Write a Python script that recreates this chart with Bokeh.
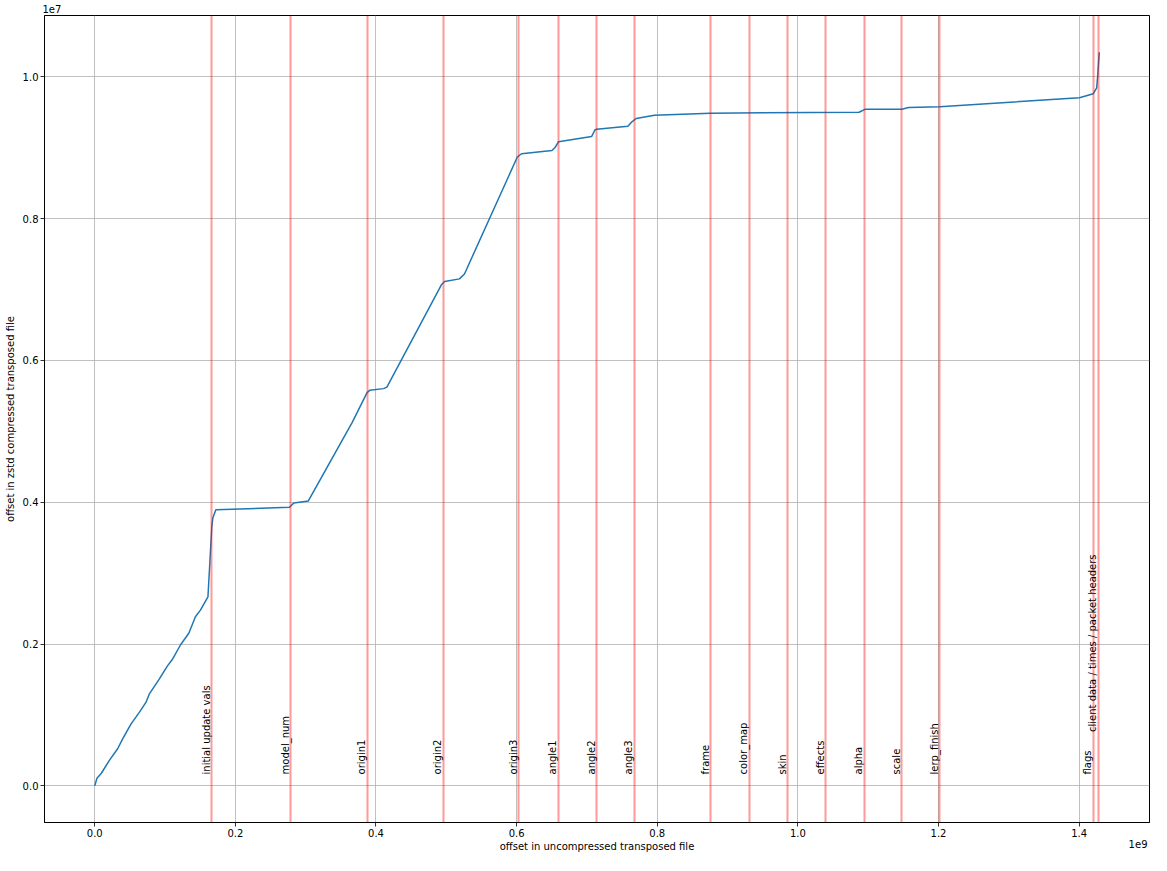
from math import pi
from bokeh.plotting import figure
from bokeh.models import Range1d, FixedTicker, CustomJSTickFormatter, Title, ColumnDataSource
from bokeh.core.properties import value
from bokeh.embed import file_html
from bokeh.resources import INLINE

# --- data -------------------------------------------------------------
# offset in uncompressed transposed file (bytes)
uncompressed_offset = [
    0.0, 0.0032e9, 0.0094e9, 0.0211e9, 0.0328e9, 0.0399e9, 0.0517e9, 0.0634e9,
    0.0728e9, 0.0775e9, 0.0915e9, 0.1032e9, 0.1103e9, 0.1221e9, 0.1338e9,
    0.1432e9, 0.1503e9, 0.1610e9, 0.1666e9, 0.1680e9, 0.1723e9, 0.2770e9,
    0.2831e9, 0.3038e9, 0.3662e9, 0.3873e9, 0.3911e9, 0.4108e9, 0.4155e9,
    0.4930e9, 0.4976e9, 0.5187e9, 0.5258e9, 0.6010e9, 0.6070e9, 0.6503e9,
    0.6549e9, 0.6596e9, 0.7066e9, 0.7113e9, 0.7137e9, 0.7582e9, 0.7630e9,
    0.7700e9, 0.7958e9, 0.8756e9, 1.0869e9, 1.0954e9, 1.1479e9, 1.1573e9,
    1.2018e9, 1.4004e9, 1.4201e9, 1.4249e9, 1.4263e9, 1.4286e9,
]
# offset in zstd compressed transposed file (bytes)
compressed_offset = [
    0.0, 0.107e6, 0.177e6, 0.363e6, 0.526e6, 0.665e6, 0.874e6, 1.036e6,
    1.176e6, 1.293e6, 1.502e6, 1.688e6, 1.781e6, 1.990e6, 2.152e6,
    2.385e6, 2.478e6, 2.664e6, 3.668e6, 3.780e6, 3.895e6, 3.929e6,
    3.989e6, 4.018e6, 5.128e6, 5.547e6, 5.579e6, 5.603e6, 5.625e6,
    7.067e6, 7.113e6, 7.151e6, 7.220e6, 8.870e6, 8.916e6, 8.961e6,
    9.008e6, 9.087e6, 9.159e6, 9.251e6, 9.262e6, 9.303e6, 9.358e6,
    9.414e6, 9.460e6, 9.488e6, 9.502e6, 9.543e6, 9.543e6, 9.568e6,
    9.578e6, 9.707e6, 9.763e6, 9.847e6, 10.010e6, 10.349e6,
]

# section boundaries (red lines)
section_names = [
    "initial update vals", "model_num", "origin1", "origin2", "origin3",
    "angle1", "angle2", "angle3", "frame", "color_map", "skin", "effects",
    "alpha", "scale", "lerp_finish", "flags",
    "client data / times / packet headers",
]
section_offset = [
    0.1662e9, 0.2789e9, 0.3873e9, 0.4958e9, 0.6028e9, 0.6592e9, 0.7141e9,
    0.7676e9, 0.8761e9, 0.9310e9, 0.9859e9, 1.0394e9, 1.0944e9, 1.1479e9,
    1.2014e9, 1.4197e9, 1.4268e9,
]
label_height = [
    0.16e6, 0.16e6, 0.16e6, 0.16e6, 0.16e6, 0.16e6, 0.16e6, 0.16e6, 0.16e6,
    0.16e6, 0.16e6, 0.16e6, 0.16e6, 0.16e6, 0.16e6, 0.16e6, 0.76e6,
]

x_ticks = [0.0, 0.2e9, 0.4e9, 0.6e9, 0.8e9, 1.0e9, 1.2e9, 1.4e9]
y_ticks = [0.0, 0.2e7, 0.4e7, 0.6e7, 0.8e7, 1.0e7]

# --- ranges (matplotlib-like 5% margins) --------------------------------
xmax = max(uncompressed_offset)
ymax = max(compressed_offset)
x0, x1 = -0.05 * xmax, 1.05 * xmax
y0, y1 = -0.05 * ymax, 1.05 * ymax

FONT = "DejaVu Sans"
W, H = 1151, 855

p = figure(
    width=W, height=H,
    x_range=Range1d(x0, x1), y_range=Range1d(y0, y1),
    output_backend="svg", toolbar_location=None,
    title="1e7",
    min_border_left=44, min_border_right=2, min_border_top=0, min_border_bottom=33,
)
p.title.align = "left"
p.title.text_font = FONT
p.title.text_font_size = "10px"
p.title.text_font_style = "normal"
p.title.text_color = "black"
p.title.standoff = 5
p.title.offset = -2

# x scale annotation (matplotlib offset text) as a bottom title
t9 = Title(text="1e9", align="right", text_font=FONT, text_font_size="10px",
           text_font_style="normal", text_color="black",
           standoff=-30, offset=2, vertical_align="top")
p.add_layout(t9, "below")

p.background_fill_color = "white"
p.border_fill_color = "white"
p.outline_line_color = "black"
p.outline_line_width = 1
p.outline_line_alpha = 1

# grid
for g in (p.xgrid, p.ygrid):
    g.grid_line_color = "#b0b0b0"
    g.grid_line_width = 0.8
p.xgrid.ticker = FixedTicker(ticks=x_ticks)
p.ygrid.ticker = FixedTicker(ticks=y_ticks)

# axes
p.xaxis.ticker = FixedTicker(ticks=x_ticks)
p.yaxis.ticker = FixedTicker(ticks=y_ticks)
p.xaxis.formatter = CustomJSTickFormatter(code="return (tick/1e9).toFixed(1);")
p.yaxis.formatter = CustomJSTickFormatter(code="return (tick/1e7).toFixed(1);")
for ax in (p.xaxis, p.yaxis):
    ax.axis_line_color = "black"
    ax.axis_line_width = 0.8
    ax.major_tick_line_color = "black"
    ax.major_tick_line_width = 0.8
    ax.major_tick_out = 4
    ax.major_tick_in = 0
    ax.minor_tick_line_color = None
    ax.major_label_text_font = FONT
    ax.major_label_text_font_size = "10px"
    ax.major_label_text_color = "black"
    ax.axis_label_text_font = FONT
    ax.axis_label_text_font_size = "10px"
    ax.axis_label_text_font_style = "normal"
    ax.axis_label_text_color = "black"
    ax.major_label_standoff = 2
p.xaxis.axis_label = "offset in uncompressed transposed file"
p.yaxis.axis_label = "offset in zstd compressed transposed file"
p.xaxis.axis_label_standoff = 1
p.yaxis.axis_label_standoff = 4

# curve
p.line(uncompressed_offset, compressed_offset, line_color="#1f77b4", line_width=1.5)

# section lines
p.vspan(x=section_offset, line_color="red", line_alpha=0.4, line_width=2)

# section labels
src = ColumnDataSource(dict(x=section_offset, y=label_height, t=section_names))
p.text(x="x", y="y", text="t", source=src, angle=pi / 2,
       text_align="left", text_baseline="bottom",
       text_font=value(FONT), text_font_size="10px", text_color="black")

open("out.html", "w").write(file_html(p, INLINE))
